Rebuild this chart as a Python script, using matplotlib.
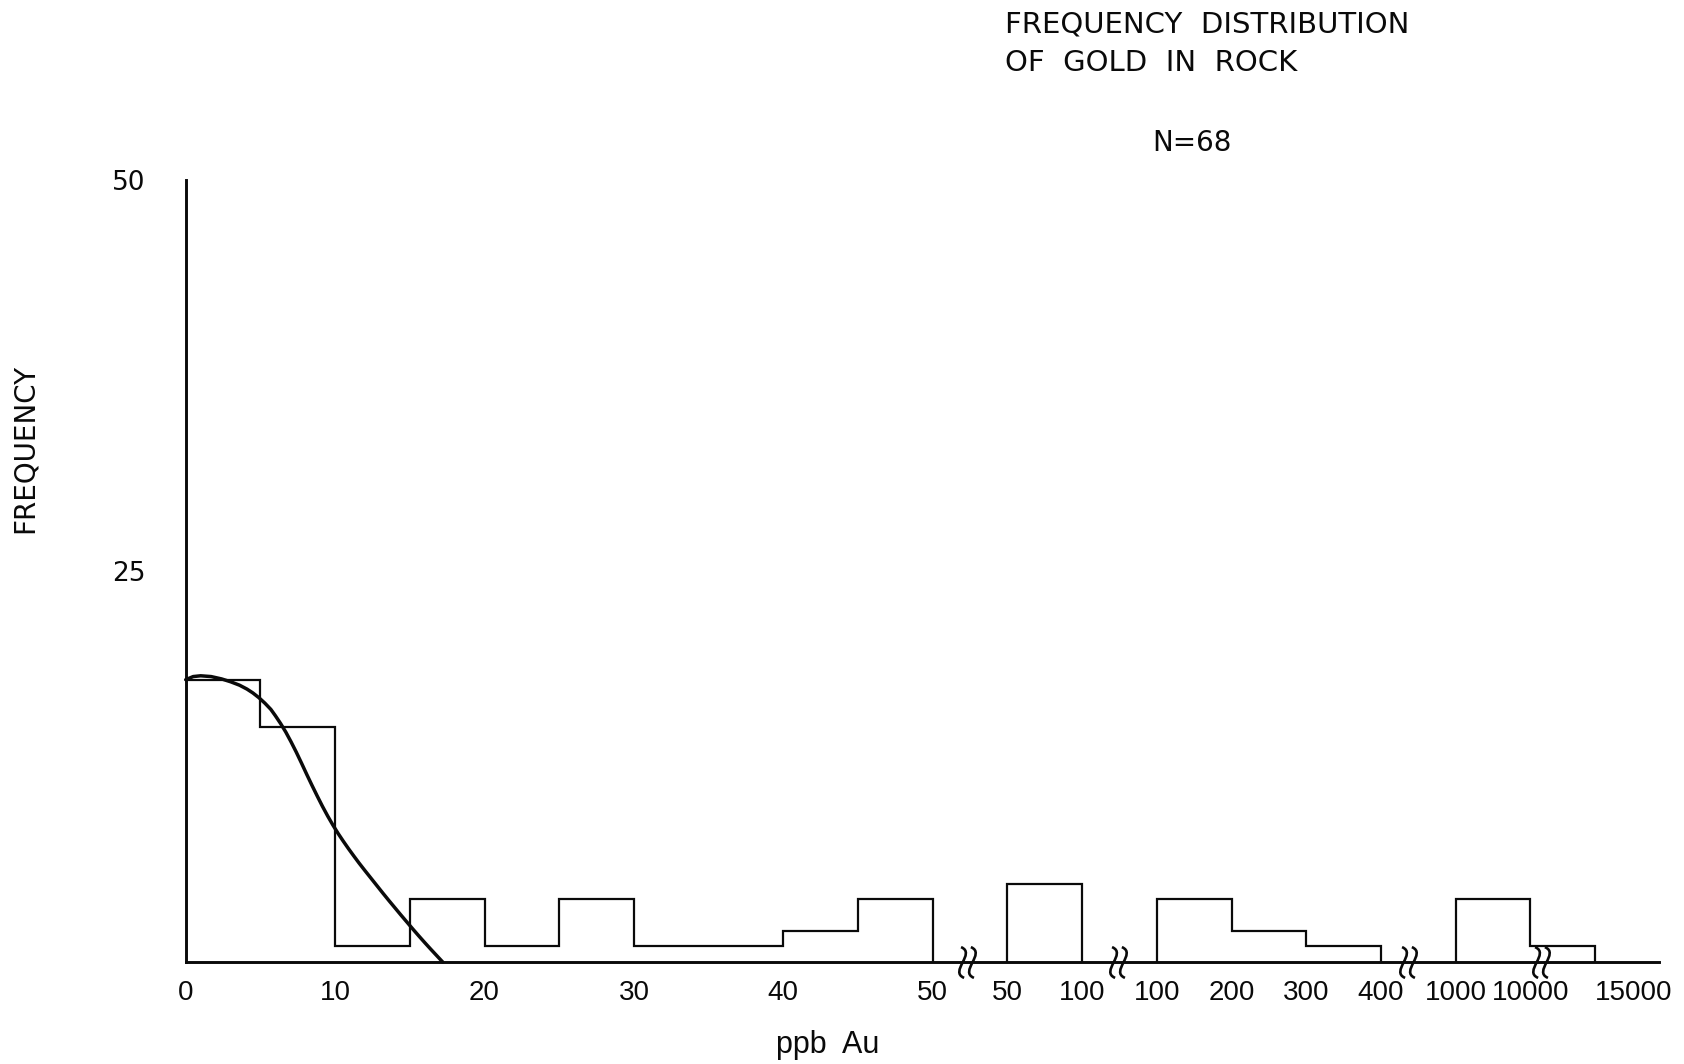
import numpy as np
import matplotlib
matplotlib.use("Agg")
import matplotlib.pyplot as plt
from matplotlib.path import Path

# ---------------- data ----------------
SEG1_EDGES = [0, 5, 10, 15, 20, 25, 30, 35, 40, 45, 50]
SEG1_FREQ = [18, 15, 1, 4, 1, 4, 1, 1, 2, 4]
SEG2_EDGES = [50, 100]
SEG2_FREQ = [5]
SEG3_EDGES = [100, 200, 300, 400]
SEG3_FREQ = [4, 2, 1]
SEG4_EDGES = [1000, 10000, 15000]
SEG4_FREQ = [4, 1]

SEG1_TICKS = [0, 10, 20, 30, 40, 50]
SEG2_TICKS = [50, 100]
SEG3_TICKS = [100, 200, 300, 400]
SEG4_TICKS = [1000, 10000, 15000]

# hand-drawn fitted curve (ppb, frequency)
CURVE_PPB = [0.0, 0.5, 1.0, 1.7, 2.4, 3.0, 3.6, 4.1, 4.5, 4.9, 5.3, 5.7, 6.0,
             6.35, 6.7, 7.05, 7.4, 7.75, 8.1, 8.45, 8.8, 9.15, 9.5, 9.85,
             10.2, 10.55, 10.9, 11.25, 11.6, 12.0, 12.4, 12.8, 13.2, 13.6,
             14.0, 14.4, 14.8, 15.2, 15.6, 16.0, 16.4, 16.8, 17.2]
CURVE_FREQ = [18.05, 18.25, 18.3, 18.25, 18.1, 17.92, 17.7, 17.45, 17.2,
              16.9, 16.55, 16.15, 15.75, 15.25, 14.7, 14.08, 13.42, 12.72,
              12.0, 11.3, 10.62, 9.96, 9.34, 8.76, 8.22, 7.72, 7.24, 6.78,
              6.33, 5.84, 5.36, 4.88, 4.4, 3.93, 3.47, 3.01, 2.56, 2.11,
              1.67, 1.24, 0.82, 0.41, 0.0]

Y_TICKS = [25, 50]
TITLE_LINE1 = "FREQUENCY  DISTRIBUTION"
TITLE_LINE2 = "OF  GOLD  IN  ROCK"
N_LABEL = "N=68"
X_LABEL = "ppb  Au"
Y_LABEL = "FREQUENCY"

# ---------------- layout: where each segment sits on the broken axis ----------------
SEG1_LAYOUT = ([0, 50], [0, 50])
SEG2_LAYOUT = ([50, 100], [55, 60])
SEG3_LAYOUT = ([100, 400], [65, 80])
SEG4_LAYOUT = ([1000, 10000, 15000], [85, 90, 94.3])
BREAK_POS = [52.3, 62.4, 81.8, 90.7]
X_END = 98.6

def to_axis(vals, layout):
    return np.interp(vals, layout[0], layout[1])

W, H = 1684, 1064
fig = plt.figure(figsize=(W / 100, H / 100), dpi=100)
ax = fig.add_axes([185.7 / W, (H - 962) / H, (1658.8 - 185.7) / W, 782 / H])

ink = "#0a0a0a"
segments = [
    (SEG1_EDGES, SEG1_FREQ, SEG1_LAYOUT),
    (SEG2_EDGES, SEG2_FREQ, SEG2_LAYOUT),
    (SEG3_EDGES, SEG3_FREQ, SEG3_LAYOUT),
    (SEG4_EDGES, SEG4_FREQ, SEG4_LAYOUT),
]
for edges, freq, layout in segments:
    ax.stairs(freq, to_axis(edges, layout), baseline=0, fill=False,
              color=ink, linewidth=1.6, zorder=2)

ax.plot(to_axis(CURVE_PPB, SEG1_LAYOUT), CURVE_FREQ, color=ink, linewidth=2.5,
        solid_capstyle="round", solid_joinstyle="round", zorder=3, clip_on=False)

# break symbols: two small wavy strokes crossing the axis
def s_stroke(dx):
    return ([(dx - 0.05, 0.5), (dx + 0.45, 0.3), (dx - 0.45, -0.3), (dx + 0.05, -0.5)],
            [Path.MOVETO, Path.CURVE4, Path.CURVE4, Path.CURVE4])
v1, c1 = s_stroke(-0.16)
v2, c2 = s_stroke(0.16)
break_path = Path(v1 + v2, c1 + c2)
ax.plot(BREAK_POS, [0] * len(BREAK_POS), linestyle="none", marker=break_path,
        markersize=27, markerfacecolor="none", markeredgecolor=ink,
        markeredgewidth=1.9, zorder=4, clip_on=False)

ax.set_xlim(0, X_END)
ax.set_ylim(0, 50)
for side in ("top", "right"):
    ax.spines[side].set_visible(False)
for side in ("left", "bottom"):
    ax.spines[side].set_linewidth(2.1)
    ax.spines[side].set_color(ink)

tick_pos = list(to_axis(SEG1_TICKS, SEG1_LAYOUT)) + list(to_axis(SEG2_TICKS, SEG2_LAYOUT)) + \
    list(to_axis(SEG3_TICKS, SEG3_LAYOUT)) + list(to_axis(SEG4_TICKS, SEG4_LAYOUT))
tick_lab = [str(v) for v in SEG1_TICKS + SEG2_TICKS + SEG3_TICKS + SEG4_TICKS]
ax.set_xticks(tick_pos)
labels = ax.set_xticklabels(tick_lab, fontfamily="Liberation Sans", fontsize=20, color=ink)
labels[-1].set_horizontalalignment("left")
ax.tick_params(axis="x", length=0, pad=13)

ax.set_yticks(Y_TICKS)
ax.set_yticklabels([str(v) for v in Y_TICKS], fontfamily="DejaVu Sans", fontsize=19, color=ink)
ax.tick_params(axis="y", length=0, pad=29)

fig.text(25 / W, 1 - 448 / H, Y_LABEL, rotation=90, ha="center", va="center",
         fontfamily="DejaVu Sans", fontsize=20, color=ink)
fig.text(828 / W, 1 - 1053 / H, X_LABEL, ha="center", va="baseline",
         fontfamily="Liberation Sans", fontsize=22, color=ink)
fig.text(1005 / W, 1 - 33 / H, TITLE_LINE1, ha="left", va="baseline",
         fontfamily="DejaVu Sans", fontsize=21, color=ink)
fig.text(1005 / W, 1 - 71 / H, TITLE_LINE2, ha="left", va="baseline",
         fontfamily="DejaVu Sans", fontsize=21, color=ink)
fig.text(1192 / W, 1 - 151 / H, N_LABEL, ha="center", va="baseline",
         fontfamily="DejaVu Sans", fontsize=20, color=ink)

fig.savefig("out.png", dpi=100, facecolor="white")
